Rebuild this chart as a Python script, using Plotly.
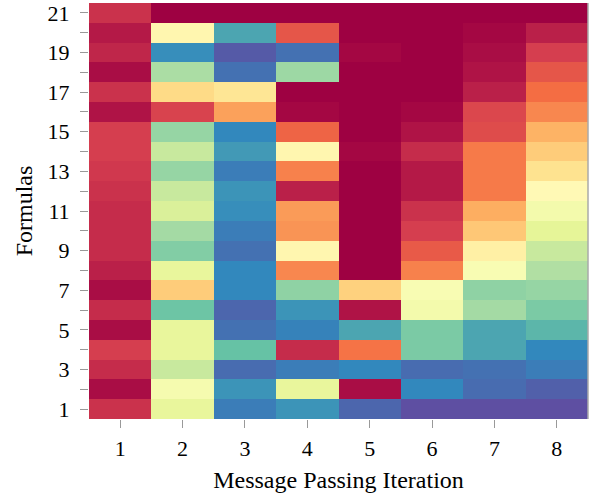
import plotly.graph_objects as go

iterations = [1, 2, 3, 4, 5, 6, 7, 8]
formulas = list(range(1, 22))

# values per formula (row 1..21), each list over iterations 1..8
f01 = [0.08, 0.59, 0.92, 0.88, 0.96, 1.00, 1.00, 1.00]
f02 = [0.02, 0.54, 0.88, 0.59, 0.02, 0.90, 0.95, 0.97]
f03 = [0.07, 0.65, 0.95, 0.92, 0.90, 0.95, 0.94, 0.92]
f04 = [0.10, 0.59, 0.80, 0.07, 0.21, 0.77, 0.85, 0.90]
f05 = [0.02, 0.59, 0.94, 0.91, 0.85, 0.77, 0.85, 0.82]
f06 = [0.07, 0.79, 0.96, 0.88, 0.03, 0.55, 0.71, 0.77]
f07 = [0.02, 0.36, 0.90, 0.74, 0.37, 0.53, 0.74, 0.73]
f08 = [0.05, 0.59, 0.90, 0.24, 0.00, 0.23, 0.53, 0.69]
f09 = [0.07, 0.76, 0.94, 0.47, 0.00, 0.16, 0.45, 0.65]
f10 = [0.07, 0.71, 0.92, 0.26, 0.00, 0.10, 0.35, 0.60]
f11 = [0.07, 0.62, 0.89, 0.27, 0.00, 0.08, 0.30, 0.55]
f12 = [0.08, 0.65, 0.88, 0.05, 0.00, 0.04, 0.22, 0.48]
f13 = [0.09, 0.73, 0.92, 0.23, 0.00, 0.04, 0.22, 0.41]
f14 = [0.10, 0.65, 0.87, 0.47, 0.01, 0.07, 0.22, 0.36]
f15 = [0.10, 0.73, 0.90, 0.18, 0.00, 0.03, 0.13, 0.31]
f16 = [0.03, 0.11, 0.28, 0.01, 0.00, 0.01, 0.12, 0.24]
f17 = [0.08, 0.39, 0.42, 0.00, 0.00, 0.00, 0.05, 0.20]
f18 = [0.02, 0.70, 0.94, 0.72, 0.00, 0.00, 0.03, 0.15]
f19 = [0.06, 0.89, 0.98, 0.94, 0.01, 0.00, 0.02, 0.10]
f20 = [0.04, 0.47, 0.85, 0.15, 0.00, 0.00, 0.01, 0.05]
f21 = [0.08, 0.00, 0.00, 0.00, 0.00, 0.00, 0.00, 0.00]

z = [f01, f02, f03, f04, f05, f06, f07, f08, f09, f10, f11,
     f12, f13, f14, f15, f16, f17, f18, f19, f20, f21]

ytick_text = [str(v) if v % 2 == 1 else "" for v in formulas]

fig = go.Figure(go.Heatmap(
    x=iterations, y=formulas, z=z,
    colorscale="Spectral", zmin=0, zmax=1,
    showscale=False,
))

font_family = "Liberation Serif"
fig.update_layout(
    width=592, height=493,
    margin=dict(l=89, r=4, t=3, b=74, autoexpand=False),
    paper_bgcolor="white", plot_bgcolor="white",
    font=dict(family=font_family, size=22, color="black"),
    xaxis=dict(
        tickvals=iterations, ticks="outside", ticklen=8, tickcolor="#999999",
        tickwidth=1.2, showgrid=False, zeroline=False, showline=False,
        ticklabelstandoff=2, automargin=False,
        title=dict(text="Message Passing Iteration", font=dict(size=24), standoff=10),
        range=[0.5, 8.5],
    ),
    yaxis=dict(
        tickvals=formulas, ticktext=ytick_text, ticks="outside", ticklen=8,
        tickcolor="#999999", tickwidth=1.2, showgrid=False, zeroline=False,
        showline=False, ticklabelstandoff=6, automargin=False,
        title=dict(text="Formulas", font=dict(size=24), standoff=8),
        range=[0.5, 21.5],
    ),
    shapes=[dict(type="line", xref="paper", yref="paper", x0=1, x1=1, y0=0, y1=1,
                 line=dict(color="#aaaaaa", width=1.5))],
)

fig.write_html("out.html", config={"displayModeBar": False},
               post_script="document.body.style.margin='0';")
